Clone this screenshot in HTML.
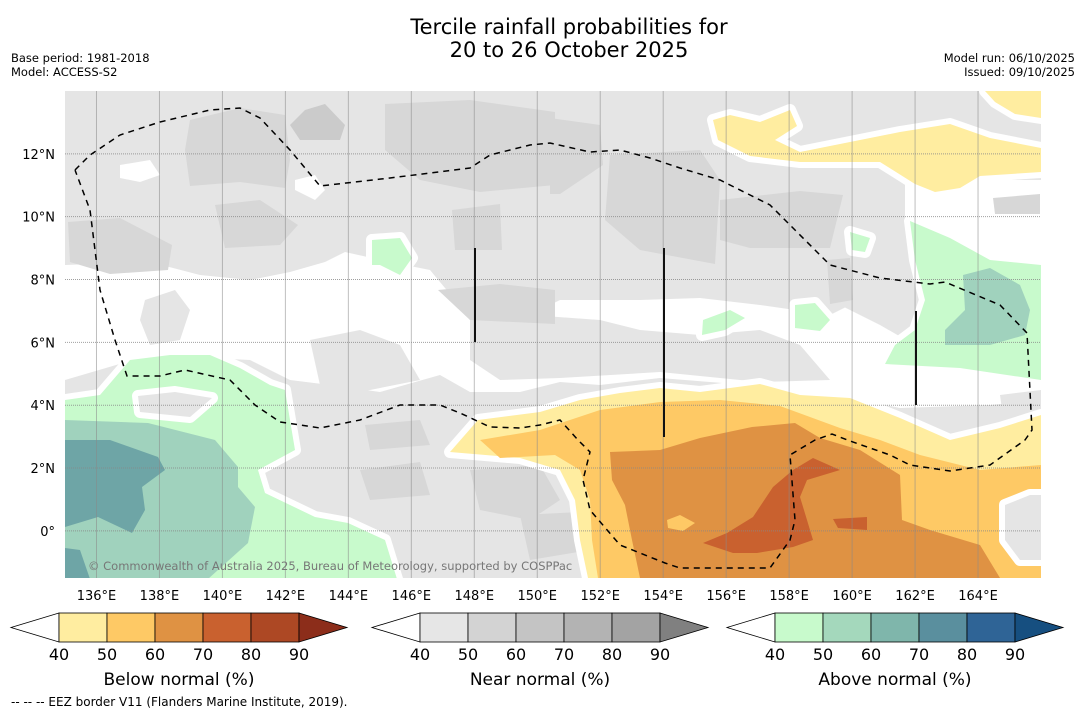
<!DOCTYPE html>
<html><head><meta charset="utf-8">
<style>
html,body{margin:0;padding:0;background:#fff;}
body{width:1085px;height:713px;overflow:hidden;font-family:"DejaVu Sans","Liberation Sans",sans-serif;}
svg text{font-family:"DejaVu Sans","Liberation Sans",sans-serif;}
</style></head>
<body>
<svg id="chart" width="1085" height="713" xmlns="http://www.w3.org/2000/svg">
<text x="569" y="34" font-size="21" text-anchor="middle">Tercile rainfall probabilities for</text>
<text x="569" y="57" font-size="21" text-anchor="middle">20 to 26 October 2025</text>
<text x="11" y="62" font-size="11.5">Base period: 1981-2018</text>
<text x="11" y="76" font-size="11.5">Model: ACCESS-S2</text>
<text x="1075" y="62" font-size="11.5" text-anchor="end">Model run: 06/10/2025</text>
<text x="1075" y="76" font-size="11.5" text-anchor="end">Issued: 09/10/2025</text>
<defs><clipPath id="mapclip"><rect x="65" y="91" width="976" height="487"/></clipPath></defs>
<g id="map" clip-path="url(#mapclip)"></g>
<g id="axes"></g>
<g id="bars"></g>
<text x="11" y="706" font-size="12">--  --  -- EEZ border V11 (Flanders Marine Institute, 2019).</text>
</svg>
<script>
// axis data
const lonTicks = [136,138,140,142,144,146,148,150,152,154,156,158,160,162,164];
const latTicks = [12,10,8,6,4,2,0];
const lonMin = 135, lonMax = 166, latMin = -1.5, latMax = 14;
// colorbar data
const cbLevels = [40,50,60,70,80,90];
const belowColors = ['#ffeda0','#fec965','#df9243','#c9612f','#ad4824','#8c2d1a'];
const nearColors = ['#e6e6e6','#d3d3d3','#c4c4c4','#b3b3b3','#a3a3a3','#808080'];
const aboveColors = ['#c8facc','#a4d8bc','#7fb6ab','#5a8f9e','#2f6496','#164f80'];
const cbTitles = ['Below normal (%)','Near normal (%)','Above normal (%)'];

const X0=65,X1=1041,Y0=91,Y1=578;
function xS(lon){return X0+(lon-lonMin)/(lonMax-lonMin)*(X1-X0);}
function yS(lat){return Y1-(lat-latMin)/(latMax-latMin)*(Y1-Y0);}
const NS='http://www.w3.org/2000/svg';
function mk(tag,attrs,parent){const e=document.createElementNS(NS,tag);for(const k in attrs)e.setAttribute(k,attrs[k]);parent.appendChild(e);return e;}
const map=document.getElementById('map');
const DK='#d7d7d7';
// contour geometry (pixel space of map)
const shapes = [
 ['white',['#fff',0],[[65,265],[150,262],[200,275],[250,280],[290,272],[325,262],[345,252],[390,262],[430,270],[455,300],[470,320],[520,320],[560,300],[640,300],[700,298],[760,305],[830,300],[880,325],[920,348],[1041,370],[1041,400],[990,405],[900,408],[850,398],[760,386],[660,378],[600,385],[560,382],[520,392],[470,392],[440,375],[380,392],[330,385],[290,380],[250,360],[150,355],[65,380]]],
 ['white-ne',['#fff',0],[[905,180],[1041,180],[1041,262],[990,255],[945,232],[905,218]]],
 ['white-nw',['#fff',0],[[120,165],[150,160],[160,175],[140,182],[120,178]]],
 ['white-n2',['#fff',0],[[295,180],[315,175],[325,190],[315,200],[295,190]]],
 ['grey-p1',['#e5e5e5',0],[[145,300],[175,290],[190,310],[180,340],[150,345],[140,320]]],
 ['grey-p2',['#e5e5e5',0],[[310,340],[360,330],[400,345],[420,380],[360,392],[320,385]]],
 ['grey-p3',['#e5e5e5',0],[[470,320],[530,315],[600,320],[640,330],[700,335],[760,330],[800,345],[830,380],[760,382],[660,372],[560,378],[500,380],[470,360]]],
 ['grey-p4',['#e5e5e5',0],[[720,258],[800,250],[850,262],[860,300],[830,315],[760,305],[720,290]]],
 ['grey-p5',['#e5e5e5',0],[[1000,395],[1041,390],[1041,440],[1005,430]]],
 ['dk1',[DK,0],[[190,120],[240,108],[285,115],[290,160],[285,188],[240,182],[190,186],[185,150]]],
 ['dk1b',['#cbcbcb',0],[[305,110],[325,104],[345,125],[340,140],[300,140],[290,125]]],
 ['dk2',[DK,0],[[385,104],[470,100],[555,112],[555,185],[480,192],[420,180],[385,150]]],
 ['dk3',[DK,0],[[215,205],[260,200],[298,225],[280,245],[225,248]]],
 ['dk4',[DK,0],[[68,222],[120,218],[172,245],[168,270],[110,274],[70,262]]],
 ['dk5',[DK,0],[[452,210],[500,204],[502,250],[455,250]]],
 ['dk6',[DK,0],[[438,290],[500,284],[555,290],[555,324],[470,320]]],
 ['dk7',[DK,0],[[550,118],[600,125],[603,165],[560,194],[550,194]]],
 ['dk8',[DK,0],[[610,155],[700,150],[720,180],[715,264],[640,250],[605,220]]],
 ['dk9',[DK,0],[[720,200],[800,191],[843,195],[830,248],[750,248],[720,240]]],
 ['dk10',[DK,0],[[827,260],[850,258],[853,300],[830,304]]],
 ['dk11',[DK,0],[[993,198],[1040,194],[1040,214],[995,214]]],
 ['dk12',[DK,0],[[360,470],[420,462],[430,495],[370,500]]],
 ['dk13',[DK,0],[[470,470],[540,465],[560,500],[530,520],[480,510]]],
 ['dk14',[DK,0],[[520,515],[580,512],[590,550],[530,560]]],
 ['dk15',[DK,0],[[365,425],[420,420],[430,445],[370,450]]],
 ['dk16',[DK,0],[[190,420],[240,410],[260,430],[210,450]]],
 ['yel-top',['#ffeda0',1],[[713,120],[730,115],[760,122],[790,110],[797,126],[775,140],[800,152],[860,140],[900,132],[950,124],[990,138],[1041,148],[1041,172],[980,176],[960,188],[935,192],[915,184],[880,162],[800,162],[750,156],[718,140]]],
 ['yel-tr',['#ffeda0',1],[[985,91],[1041,91],[1041,118],[1015,114],[995,102]]],
 ['yel-b',['#ffeda0',1],[[450,452],[478,420],[540,412],[580,400],[620,393],[660,388],[700,392],[760,384],[800,395],[850,398],[900,418],[950,440],[1000,428],[1041,415],[1041,578],[588,578],[580,540],[575,500],[560,470],[520,458]]],
 ['ora-b',['#fec965',0],[[480,440],[540,430],[600,410],[660,402],[720,400],[780,406],[840,428],[880,440],[920,455],[980,470],[1041,465],[1041,578],[598,578],[592,540],[590,500],[580,470],[555,455],[500,458]]],
 ['hole-r',['#e5e5e5',1],[[1005,505],[1030,495],[1041,495],[1041,560],[1020,560],[1005,540]]],
 ['dor-b',['#df9243',0],[[610,452],[660,450],[700,438],[752,427],[795,423],[820,438],[860,450],[900,475],[902,520],[930,530],[980,545],[1000,578],[640,578],[632,540],[625,505],[612,480]]],
 ['yel-hole',['#fec965',0],[[667,520],[680,515],[695,523],[683,531],[668,528]]],
 ['red-b',['#c9612f',0],[[703,543],[727,533],[753,517],[773,487],[793,470],[813,458],[840,470],[807,480],[800,497],[807,520],[813,540],[793,547],[757,553],[733,553]]],
 ['red-s',['#c9612f',0],[[833,519],[867,517],[867,530],[838,528]]],
 ['grn-sw',['#c8facc',1],[[65,400],[100,395],[130,360],[170,355],[210,355],[240,368],[270,385],[285,390],[290,420],[295,450],[258,470],[265,493],[315,517],[348,523],[385,540],[397,579],[65,579]]],
 ['grey-in-grn',['#e5e5e5',1],[[138,396],[175,392],[212,398],[190,417],[140,412]]],
 ['teal-sw',['#a0d2bd',0],[[65,420],[148,423],[215,440],[238,467],[238,487],[255,507],[248,543],[208,579],[65,579]]],
 ['dteal-sw',['#6ea5a6',0],[[65,440],[110,440],[158,457],[165,470],[142,487],[145,510],[132,533],[98,517],[65,527]]],
 ['dteal-sw2',['#6ea5a6',0],[[65,548],[80,550],[90,579],[65,579]]],
 ['grn-e',['#c8facc',1],[[910,221],[950,238],[990,260],[1041,265],[1041,380],[960,368],[885,364],[895,345],[915,330],[925,300],[915,260]]],
 ['teal-e',['#a0d2bd',0],[[963,275],[990,268],[1020,285],[1030,310],[1025,335],[990,345],[945,345],[945,330],[965,310]]],
 ['grn-1',['#c8facc',1],[[372,240],[400,238],[412,258],[400,275],[380,265],[372,265]]],
 ['grn-2',['#c8facc',1],[[850,232],[870,238],[865,252],[852,250]]],
 ['grn-3',['#c8facc',1],[[795,305],[815,303],[830,320],[820,331],[795,328]]],
 ['grn-4',['#c8facc',1],[[703,320],[730,310],[745,318],[725,330],[702,335]]]
];
// base
const base=mk('rect',{x:X0,y:Y0,width:X1-X0,height:Y1-Y0,fill:'#e5e5e5'},map);


shapes.forEach(s=>{
  const pts=s[2].map(p=>p.join(',')).join(' ');
  if(s[1][1]){const b=mk('polygon',{points:pts,fill:'#fff',stroke:'#fff','stroke-width':12,'stroke-linejoin':'round'},map);
    
    }
  const p=mk('polygon',{points:pts,fill:s[1][0]},map);
  
  
});
// gridlines
lonTicks.forEach(l=>{const g=mk('line',{x1:xS(l),x2:xS(l),y1:Y0,y2:Y1,stroke:'#8a8a8a','stroke-width':1,opacity:0.55},map);
  
  });
latTicks.forEach(l=>{const g=mk('line',{x1:X0,x2:X1,y1:yS(l),y2:yS(l),stroke:'#888','stroke-width':1,'stroke-dasharray':'1,1',opacity:0.8},map);
  
  });
// EEZ border
const eez=[[75,170],[90,155],[120,135],[160,122],[210,110],[240,108],[260,118],[290,150],[320,186],[390,178],[470,168],[490,155],[530,145],[550,143],[590,152],[620,150],[650,158],[680,168],[720,180],[770,205],[790,225],[830,265],[880,278],[930,284],[945,282],[1000,305],[1027,333],[1032,430],[1025,440],[990,465],[950,471],[910,465],[890,455],[850,441],[832,434],[815,440],[790,455],[795,520],[790,540],[770,568],[680,568],[665,563],[620,545],[590,510],[583,480],[590,452],[578,440],[560,420],[540,425],[520,428],[490,427],[460,413],[440,405],[400,405],[360,420],[320,428],[280,422],[255,405],[230,380],[185,370],[160,376],[127,376],[115,340],[100,290],[95,250],[90,210],[75,170]];
const ez=mk('polyline',{points:eez.map(p=>p.join(',')).join(' '),fill:'none',stroke:'#000','stroke-width':1.5,'stroke-dasharray':'6,5'},map);


[[475,248,342],[664,248,437],[916,311,405]].forEach(v=>{const l=mk('line',{x1:v[0],x2:v[0],y1:v[1],y2:v[2],stroke:'#111','stroke-width':2},map);
  
  });
const cr=mk('text',{x:88,y:570,'font-size':11.5,fill:'#777'},map);cr.textContent='© Commonwealth of Australia 2025, Bureau of Meteorology, supported by COSPPac';


// axis labels
const ax=document.getElementById('axes');
lonTicks.forEach(l=>{const t=mk('text',{x:xS(l),y:600,'font-size':13,'text-anchor':'middle'},ax);t.textContent=l+'°E';
  
  });
latTicks.forEach(l=>{const t=mk('text',{x:55,y:yS(l)+5,'font-size':13,'text-anchor':'end'},ax);t.textContent=l===0?'0°':l+'°N';
  
  });
// colorbars
const bars=document.getElementById('bars');
const starts=[11,372,727];const cols=[belowColors,nearColors,aboveColors];
starts.forEach((sx,i)=>{
  const g=mk('g',{},bars);
  
  
  const y0=613,h=29,w=48,bx=sx+48;
  const tri=mk('polygon',{points:`${bx},${y0} ${sx},${y0+h/2} ${bx},${y0+h}`,fill:'#fff',stroke:'#000','stroke-width':0.8},g);
  
  
  for(let k=0;k<cbLevels.length-1;k++){
    const r=mk('rect',{x:bx+k*w,y:y0,width:w,height:h,fill:cols[i][k],stroke:'#000','stroke-width':0.8},g);
    
    
  }
  const ex=bx+(cbLevels.length-1)*w;
  const t2=mk('polygon',{points:`${ex},${y0} ${ex+48},${y0+h/2} ${ex},${y0+h}`,fill:cols[i][cbLevels.length-1],stroke:'#000','stroke-width':0.8},g);
  
  
  cbLevels.forEach((v,k)=>{const t=mk('text',{x:bx+k*w,y:660,'font-size':16,'text-anchor':'middle'},g);t.textContent=v;
    
    });
  const tt=mk('text',{x:sx+168,y:685,'font-size':17,'text-anchor':'middle'},g);tt.textContent=cbTitles[i];
  
  
});
</script>
</body></html>
